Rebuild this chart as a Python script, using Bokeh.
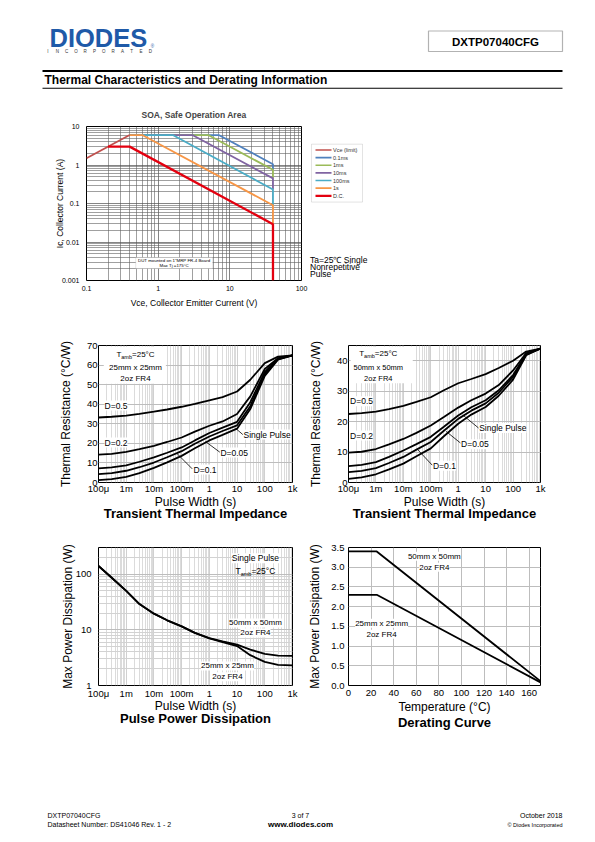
from bokeh.plotting import figure
from bokeh.models import (Range1d, FixedTicker, Label, BoxAnnotation, Arrow, Title,
                          NumeralTickFormatter, BasicTickFormatter)
from bokeh.layouts import column, row
from bokeh.embed import file_html
from bokeh.resources import INLINE

FONT = "Liberation Sans"

# ---------------- SOA data ----------------
soa_names = ["Vce (limit)", "0.1ms", "1ms", "10ms", "100ms", "1s", "D.C."]
soa_colors = ["#c0504d", "#4f81bd", "#9bbb59", "#8064a2", "#4bacc6", "#f79646", "#e3000f"]
soa_vce_x = [0.1, 0.4]
soa_vce_y = [1.5, 6.0]
soa_01ms_x = [0.4, 7.0, 40, 40]
soa_01ms_y = [6.0, 6.0, 1.05, 0.75]
soa_1ms_x = [0.4, 5.0, 40, 40]
soa_1ms_y = [6.0, 6.0, 0.75, 0.45]
soa_10ms_x = [0.4, 3.0, 40, 40]
soa_10ms_y = [6.0, 6.0, 0.45, 0.23]
soa_100ms_x = [0.4, 1.6, 40, 40]
soa_100ms_y = [6.0, 6.0, 0.23, 0.09]
soa_1s_x = [0.4, 0.6, 40, 40]
soa_1s_y = [6.0, 6.0, 0.09, 0.029]
soa_dc_x = [0.2, 0.4, 40, 40]
soa_dc_y = [3.0, 3.0, 0.029, 0.001]
soa_x_ticks = [0.1, 1, 10, 100]
soa_x_labels = ["0.1", "1", "10", "100"]
soa_y_ticks = [0.001, 0.01, 0.1, 1, 10]
soa_y_labels = ["0.001", "0.01", "0.1", "1", "10"]

# ---------------- pulse width axis ----------------
pw_ticks = [1e-4, 1e-3, 1e-2, 1e-1, 1, 10, 100, 1000]
pw_labels = ["100\u03bc", "1m", "10m", "100m", "1", "10", "100", "1k"]
tz_x = [1e-4, 3e-4, 1e-3, 3e-3, 1e-2, 3e-2, 1e-1, 3e-1, 1, 3, 10, 30, 100, 300, 1000]

# Transient thermal impedance, 25mm x 25mm (degC/W)
tz25_d05 = [33.2, 33.6, 34.2, 35.1, 36.2, 37.3, 38.7, 40.2, 42.0, 43.6, 46.5, 52.5, 61.0, 64.3, 65.0]
tz25_d02 = [14.2, 14.6, 15.6, 17.0, 18.7, 20.7, 23.0, 26.0, 29.0, 31.2, 35.0, 44.0, 58.0, 63.5, 65.0]
tz25_d01 = [7.2, 7.7, 8.8, 10.6, 12.8, 15.2, 17.9, 21.5, 25.3, 28.0, 31.0, 41.0, 56.5, 63.3, 65.0]
tz25_d005 = [4.3, 4.8, 6.0, 7.8, 10.2, 12.9, 16.0, 19.8, 23.5, 26.3, 29.2, 39.0, 55.5, 63.0, 65.0]
tz25_single = [1.2, 1.7, 2.9, 4.8, 7.5, 10.3, 13.6, 17.5, 21.5, 24.3, 27.5, 37.5, 54.5, 62.8, 65.0]

# Transient thermal impedance, 50mm x 50mm (degC/W)
tz50_d05 = [22.5, 22.8, 23.3, 24.1, 25.2, 26.5, 28.0, 30.3, 32.6, 34.0, 35.6, 37.6, 40.0, 43.0, 44.0]
tz50_d02 = [9.8, 10.1, 11.0, 12.5, 14.3, 16.3, 18.7, 21.5, 24.6, 27.0, 29.2, 32.0, 36.8, 42.5, 44.0]
tz50_d01 = [5.4, 5.8, 6.7, 8.4, 10.5, 12.6, 15.0, 18.3, 22.0, 24.7, 27.0, 30.3, 35.3, 42.2, 44.0]
tz50_d005 = [3.4, 3.8, 4.7, 6.4, 8.4, 10.8, 13.3, 17.0, 20.9, 23.6, 26.0, 29.5, 34.7, 42.0, 44.0]
tz50_single = [1.2, 1.7, 2.7, 4.3, 6.2, 8.6, 11.2, 15.2, 19.3, 22.3, 24.8, 28.5, 33.8, 41.8, 44.0]

# Pulse power dissipation (W)
pp_50 = [140, 86, 50, 29, 19.5, 14.8, 11.5, 8.8, 7.1, 6.2, 5.4, 4.4, 3.7, 3.45, 3.4]
pp_25 = [140, 86, 50, 29, 19.5, 14.8, 11.5, 8.8, 7.0, 6.0, 5.1, 3.5, 2.65, 2.35, 2.3]
pp_y_ticks = [1, 10, 100]
pp_y_labels = ["1", "10", "100"]

# Derating curve
der_temp = [0, 25, 170]
der_p50 = [3.4, 3.4, 0.11]
der_p25 = [2.3, 2.3, 0.08]
der_x_ticks = [0, 20, 40, 60, 80, 100, 120, 140, 160]
der_y_ticks = [0.0, 0.5, 1.0, 1.5, 2.0, 2.5, 3.0, 3.5]


def minor_log(lo, hi):
    return [m * 10.0 ** e for e in range(lo, hi) for m in range(2, 10)]


def add_label(p, x, y, text, size="9px", align="center", bold=False, color="black",
              bg=None, baseline="middle", x_offset=0, y_offset=0):
    kw = dict(x=x, y=y, text=text, text_font=FONT, text_font_size=size, text_align=align,
              text_baseline=baseline, text_color=color,
              text_font_style="bold" if bold else "normal", x_offset=x_offset, y_offset=y_offset)
    if bg is not None:
        kw.update(background_fill_color=bg, background_fill_alpha=1.0)
    lab = Label(**kw)
    p.add_layout(lab)
    return lab


def add_tamb(p, x, y, s, sub):
    total = 3.429 * s + 1.945 * sub
    x0 = -total / 2.0
    add_label(p, x, y, "T", size=f"{s}px", align="left", x_offset=x0)
    add_label(p, x, y, "amb", size=f"{sub}px", align="left", x_offset=x0 + 0.611 * s, y_offset=-2.5)
    add_label(p, x, y, "=25\u00b0C", size=f"{s}px", align="left", x_offset=x0 + 0.611 * s + 1.945 * sub)


def leader(p, xs, ys, xe, ye):
    p.add_layout(Arrow(x_start=xs, y_start=ys, x_end=xe, y_end=ye, end=None, start=None,
                       line_color="black", line_width=0.8))


def base_style(p, tick_size, label_size):
    p.background_fill_color = "white"
    p.border_fill_color = "white"
    p.outline_line_color = "black"
    p.outline_line_width = 1
    for ax in (p.xaxis, p.yaxis):
        ax.axis_line_color = None
        ax.major_tick_line_color = None
        ax.minor_tick_line_color = None
        ax.major_tick_out = 0
        ax.major_tick_in = 0
        ax.major_label_text_font = FONT
        ax.major_label_text_font_size = tick_size
        ax.major_label_text_color = "black"
        ax.axis_label_text_font = FONT
        ax.axis_label_text_font_size = label_size
        ax.axis_label_text_font_style = "normal"
        ax.axis_label_text_color = "black"


def caption(p, text, standoff):
    p.add_layout(Title(text=text, align="center", text_font=FONT, text_font_size="13px",
                       text_font_style="bold", text_color="black", standoff=standoff), "below")


# ======================= HEADER =======================
hdr = figure(width=595, height=100, x_range=Range1d(0, 595), y_range=Range1d(100, 0),
             x_axis_type=None, y_axis_type=None, output_backend="svg", toolbar_location=None,
             min_border=0, title=None)
hdr.outline_line_color = None
add_label(hdr, 49, 37.5, "DIODES", size="25.5px", align="left", bold=True, color="#1f5aa8")
for i, ch in enumerate("INCORPORATED"):
    add_label(hdr, 47.5 + i * 9.3, 50.5, ch, size="4.5px", color="#333333")
add_label(hdr, 152, 46, "\u00ae", size="4.5px", color="#1f5aa8")
hdr.add_layout(BoxAnnotation(left=428, right=562, top=30.5, bottom=51, fill_color=None,
                             fill_alpha=0, line_color="black", line_width=1.2))
add_label(hdr, 495, 41, "DXTP07040CFG", size="11.5px", bold=True)
hdr.add_layout(BoxAnnotation(left=42, right=562, top=69.5, bottom=71.5, fill_color="black",
                             fill_alpha=1, line_color=None))
add_label(hdr, 44, 79, "Thermal Characteristics and Derating Information", size="12px",
          align="left", bold=True)
hdr.add_layout(BoxAnnotation(left=42, right=562, top=87.3, bottom=88.3, fill_color="black",
                             fill_alpha=1, line_color=None))

# ======================= SOA =======================
soa = figure(width=308, height=218, x_axis_type="log", y_axis_type="log",
             x_range=Range1d(0.1, 100), y_range=Range1d(0.001, 10),
             output_backend="svg", toolbar_location=None,
             min_border_left=86, min_border_right=7, min_border_top=26, min_border_bottom=38)
base_style(soa, "7px", "8.5px")
soa.title.text = "SOA, Safe Operation Area"
soa.title.align = "center"
soa.title.text_font = FONT
soa.title.text_font_size = "8.5px"
soa.title.text_font_style = "bold"
soa.title.standoff = 13
sx = FixedTicker(ticks=soa_x_ticks, minor_ticks=minor_log(-1, 2))
sy = FixedTicker(ticks=soa_y_ticks, minor_ticks=minor_log(-3, 1))
soa.xaxis.ticker = sx
soa.xgrid.ticker = sx
soa.yaxis.ticker = sy
soa.ygrid.ticker = sy
soa.xaxis.formatter = BasicTickFormatter()
soa.yaxis.formatter = BasicTickFormatter()
soa.xaxis.major_label_overrides = dict(zip(soa_x_ticks, soa_x_labels))
soa.yaxis.major_label_overrides = dict(zip(soa_y_ticks, soa_y_labels))
for g in (soa.xgrid, soa.ygrid):
    g.grid_line_color = "#505050"
    g.grid_line_width = 0.7
    g.minor_grid_line_color = "#606060"
    g.minor_grid_line_width = 0.6
soa.xaxis.axis_label = "Vce, Collector Emitter Current (V)"
soa.yaxis.axis_label = "Ic, Collector Current (A)"
soa.xaxis.major_label_standoff = 1
soa.xaxis.axis_label_standoff = 4
soa.yaxis.major_label_standoff = 3
soa.yaxis.axis_label_standoff = -6
soa_order = [(soa_01ms_x, soa_01ms_y, 1), (soa_1ms_x, soa_1ms_y, 2), (soa_10ms_x, soa_10ms_y, 3),
             (soa_100ms_x, soa_100ms_y, 4), (soa_1s_x, soa_1s_y, 5), (soa_vce_x, soa_vce_y, 0),
             (soa_dc_x, soa_dc_y, 6)]
for xs, ys, ci in soa_order:
    soa.line(xs, ys, line_color=soa_colors[ci], line_width=2.3 if ci == 6 else 1.8)
soa.add_layout(BoxAnnotation(left=0.486, right=5.76, bottom=0.00205, top=0.00395,
                             fill_color="white", fill_alpha=1, line_color="#777777", line_width=0.6))
add_label(soa, 1.67, 0.0034, "DUT mounted on 1\"MRP FR-4 Board", size="4.4px")
add_label(soa, 1.67, 0.0024, "Max Tj =175\u00b0C", size="4.4px")

# side panel: legend + note
side = figure(width=287, height=218, x_range=Range1d(308, 595), y_range=Range1d(318, 100),
              x_axis_type=None, y_axis_type=None, output_backend="svg", toolbar_location=None,
              min_border=0, title=None)
side.outline_line_color = None
side.add_layout(BoxAnnotation(left=311, right=362, top=125, bottom=207, fill_color=None,
                              fill_alpha=0, line_color="#8a8a8a", line_width=0.8))
leg_y = [133.3 + i * 10.8 for i in range(len(soa_names))]
side.segment(x0=[315] * len(soa_names), y0=leg_y, x1=[331] * len(soa_names), y1=leg_y,
             line_color=soa_colors, line_width=[1.6] * 6 + [2.2])
for name, yy in zip(soa_names, leg_y):
    add_label(side, 332.5, yy, name, size="5.5px", align="left", color="#333333")
add_label(side, 309.5, 288.3, "Ta=25\u2103 Single", size="8.5px", align="left")
add_label(side, 309.5, 298.8, "Nonrepetitive", size="8.5px", align="left")
add_label(side, 309.5, 308.5, "Pulse", size="8.5px", align="left")


# ======================= Pulse-width charts =======================
def pw_fig(width, height, y_type, y_range, ml, mr, mt, mb):
    p = figure(width=width, height=height, x_axis_type="log", y_axis_type=y_type,
               x_range=Range1d(1e-4, 1e3), y_range=y_range, output_backend="svg",
               toolbar_location=None, title=None,
               min_border_left=ml, min_border_right=mr, min_border_top=mt, min_border_bottom=mb)
    base_style(p, "9.5px", "12px")
    tk = FixedTicker(ticks=pw_ticks, minor_ticks=minor_log(-4, 3))
    p.xaxis.ticker = tk
    p.xgrid.ticker = tk
    p.xaxis.formatter = BasicTickFormatter()
    p.xaxis.major_label_overrides = dict(zip(pw_ticks, pw_labels))
    p.xgrid.grid_line_color = "#c4c4c4"
    p.xgrid.minor_grid_line_color = "#d2d2d2"
    p.xgrid.grid_line_width = 0.8
    p.xgrid.minor_grid_line_width = 0.8
    p.ygrid.grid_line_color = "#bdbdbd"
    p.xaxis.axis_label = "Pulse Width (s)"
    p.xaxis.major_label_standoff = -2
    p.xaxis.axis_label_standoff = -2
    return p


def tz_fig(width, ymax, yticks, ml, mr, curves):
    p = pw_fig(width, 212, "linear", Range1d(0, ymax), ml, mr, 27, 48)
    p.xaxis.major_label_standoff = -4
    ty = FixedTicker(ticks=yticks)
    p.yaxis.ticker = ty
    p.ygrid.ticker = ty
    p.yaxis.axis_label = "Thermal Resistance (\u00b0C/W)"
    p.yaxis.major_label_standoff = 1
    p.yaxis.axis_label_standoff = 11
    for c in curves:
        p.line(tz_x, c, line_color="black", line_width=1.8)
    caption(p, "Transient Thermal Impedance", -15)
    return p


tz1 = tz_fig(305, 70, [0, 10, 20, 30, 40, 50, 60, 70], 98, 13,
             [tz25_d05, tz25_d02, tz25_d01, tz25_d005, tz25_single])
tz1.add_layout(BoxAnnotation(left=1.55e-4, right=0.027, bottom=50.5, top=69.3,
                             fill_color="white", fill_alpha=1, line_color=None))
add_tamb(tz1, 2.16e-3, 65.4, 8, 5.5)
add_label(tz1, 2.16e-3, 58.8, "25mm x 25mm", size="8px")
add_label(tz1, 2.16e-3, 53.1, "2oz FR4", size="8px")
add_label(tz1, 1.65e-4, 39.3, "D=0.5", size="8.5px", align="left", bg="white")
add_label(tz1, 1.65e-4, 20.4, "D=0.2", size="8.5px", align="left", bg="white")
add_label(tz1, 17, 24.5, "Single Pulse", size="8.5px", align="left", bg="white")
add_label(tz1, 2.5, 15.3, "D=0.05", size="8.5px", align="left", bg="white")
add_label(tz1, 0.27, 6.6, "D=0.1", size="8.5px", align="left", bg="white")
leader(tz1, 16.1, 24.5, 8.8, 27.7)
leader(tz1, 2.38, 15.5, 0.73, 20.9)
leader(tz1, 0.24, 7.0, 0.069, 14.7)

tz2 = tz_fig(290, 45, [0, 10, 20, 30, 40], 42, 55,
             [tz50_d05, tz50_d02, tz50_d01, tz50_d005, tz50_single])
tz2.add_layout(BoxAnnotation(left=1.2e-4, right=0.022, bottom=32.6, top=44.6,
                             fill_color="white", fill_alpha=1, line_color=None))
add_tamb(tz2, 1.22e-3, 42.4, 8, 5.5)
add_label(tz2, 1.22e-3, 37.7, "50mm x 50mm", size="7.5px")
add_label(tz2, 1.22e-3, 34.2, "2oz FR4", size="7.5px")
add_label(tz2, 1.14e-4, 26.7, "D=0.5", size="8.5px", align="left", bg="white")
add_label(tz2, 1.14e-4, 15.4, "D=0.2", size="8.5px", align="left", bg="white")
add_label(tz2, 5.8, 17.9, "Single Pulse", size="8.5px", align="left", bg="white")
add_label(tz2, 1.27, 12.6, "D=0.05", size="8.5px", align="left", bg="white")
add_label(tz2, 0.12, 5.5, "D=0.1", size="8.5px", align="left", bg="white")
leader(tz2, 5.5, 17.9, 1.46, 22.2)
leader(tz2, 1.2, 13.0, 0.36, 16.8)
leader(tz2, 0.113, 5.7, 0.034, 10.7)

# ---- Pulse power dissipation ----
pp = pw_fig(305, 210, "log", Range1d(1, 300), 98, 13, 17, 54)
tpy = FixedTicker(ticks=pp_y_ticks, minor_ticks=minor_log(0, 3))
pp.yaxis.ticker = tpy
pp.ygrid.ticker = tpy
pp.yaxis.formatter = BasicTickFormatter()
pp.yaxis.major_label_overrides = dict(zip(pp_y_ticks, pp_y_labels))
pp.ygrid.grid_line_color = "#bdbdbd"
pp.ygrid.minor_grid_line_color = "#d2d2d2"
pp.yaxis.axis_label = "Max Power Dissipation (W)"
pp.yaxis.major_label_standoff = 3
pp.yaxis.axis_label_standoff = -2
pp.xaxis.axis_label_standoff = -3
pp.line(tz_x, pp_50, line_color="black", line_width=1.8)
pp.line(tz_x, pp_25, line_color="black", line_width=1.8)
add_label(pp, 46, 193, "Single Pulse", size="8.5px", bg="white")
add_tamb(pp, 46, 113, 8.5, 5.5)
add_label(pp, 46, 13.3, "50mm x 50mm", size="8px", bg="white")
add_label(pp, 46, 8.8, "2oz FR4", size="8px", bg="white")
add_label(pp, 4.5, 2.25, "25mm x 25mm", size="8px", bg="white")
add_label(pp, 4.5, 1.43, "2oz FR4", size="8px", bg="white")
caption(pp, "Pulse Power Dissipation", -14)

# ---- Derating curve ----
der = figure(width=290, height=210, x_range=Range1d(0, 170), y_range=Range1d(0, 3.5),
             output_backend="svg", toolbar_location=None, title=None,
             min_border_left=42, min_border_right=55, min_border_top=17, min_border_bottom=55)
base_style(der, "9.5px", "12px")
dx = FixedTicker(ticks=der_x_ticks)
dy = FixedTicker(ticks=der_y_ticks)
der.xaxis.ticker = dx
der.xgrid.ticker = dx
der.yaxis.ticker = dy
der.ygrid.ticker = dy
der.yaxis.formatter = NumeralTickFormatter(format="0.0")
der.xgrid.grid_line_color = "#bdbdbd"
der.ygrid.grid_line_color = "#bdbdbd"
der.xaxis.axis_label = "Temperature (\u00b0C)"
der.yaxis.axis_label = "Max Power Dissipation (W)"
der.xaxis.major_label_standoff = 4
der.xaxis.axis_label_standoff = 1
der.yaxis.major_label_standoff = 4
der.yaxis.axis_label_standoff = 6
der.line(der_temp, der_p50, line_color="black", line_width=1.8)
der.line(der_temp, der_p25, line_color="black", line_width=1.8)
add_label(der, 76, 3.28, "50mm x 50mm", size="8px", bg="white")
add_label(der, 76, 3.0, "2oz FR4", size="8px", bg="white")
add_label(der, 29.3, 1.58, "25mm x 25mm", size="8px", bg="white")
add_label(der, 29.3, 1.30, "2oz FR4", size="8px", bg="white")
caption(der, "Derating Curve", -7)

# ======================= FOOTER =======================
ftr = figure(width=595, height=100, x_range=Range1d(0, 595), y_range=Range1d(840, 740),
             x_axis_type=None, y_axis_type=None, output_backend="svg", toolbar_location=None,
             min_border=0, title=None)
ftr.outline_line_color = None
add_label(ftr, 47, 815, "DXTP07040CFG", size="7px", align="left")
add_label(ftr, 47, 824, "Datasheet Number: DS41046 Rev. 1 - 2", size="7px", align="left")
add_label(ftr, 300, 815, "3 of 7", size="7px")
add_label(ftr, 300, 824, "www.diodes.com", size="8px", bold=True)
add_label(ftr, 562, 815, "October 2018", size="7px", align="right")
add_label(ftr, 562, 824, "\u00a9 Diodes Incorporated", size="5.5px", align="right")

layout = column(hdr, row(soa, side), row(tz1, tz2), row(pp, der), ftr)
open("out.html", "w").write(file_html(layout, INLINE))
